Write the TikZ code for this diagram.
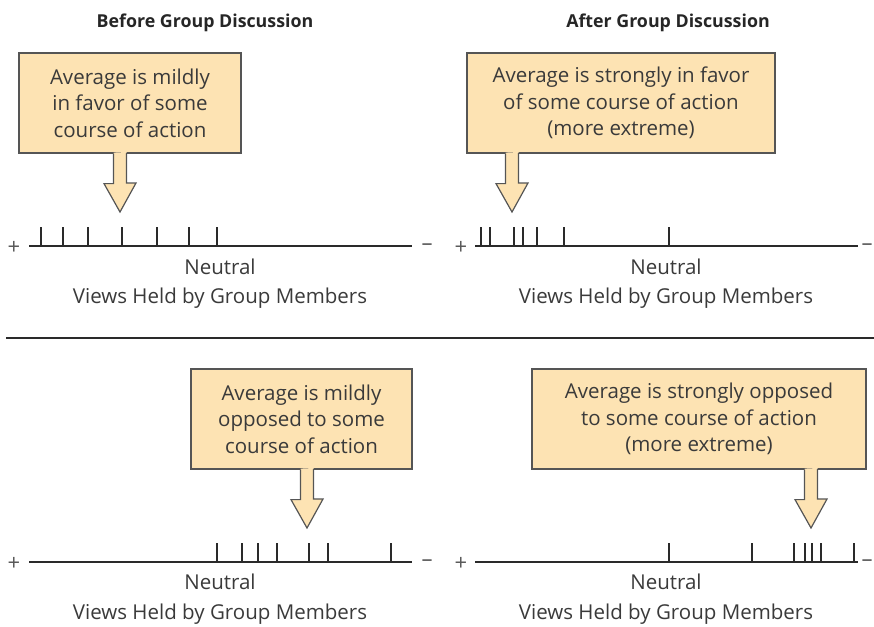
\documentclass[tikz,border=0pt]{standalone}
\usepackage{fontspec}
\setmainfont{Open Sans}
\usepackage{xcolor}
\usetikzlibrary{positioning}

\definecolor{calloutfill}{HTML}{FDE3B3}
\definecolor{calloutline}{HTML}{555555}
\definecolor{inktext}{HTML}{3A3A3A}
\definecolor{inkline}{HTML}{2A2A2A}

\tikzset{
  callout/.style={draw=calloutline, fill=calloutfill, line width=1.2pt, align=center,
    text=inktext, inner sep=0pt, font=\fontsize{20.5}{26.5}\selectfont},
  heading/.style={font=\bfseries\fontsize{17.8}{20}\selectfont, text=black!85},
  caption/.style={font=\fontsize{20.5}{22}\selectfont, text=inktext},
  sign/.style={font=\fontsize{22}{22}\selectfont, text=black!65, inner sep=0pt},
  axisline/.style={draw=inkline, line width=1.4pt},
  tickmark/.style={draw=inkline, line width=1.2pt},
}

% block arrow from the bottom of a callout down to a tip point
\newcommand{\fatarrow}[2]{%
  \fill[calloutfill] (#1.south -| #2) ++(-6.5,-1) -- ++(0,31) -- ++(-9.5,0) -- (#2)
    -- ++(16,-29) -- ++(-9.5,0) -- ++(0,-31) -- cycle;
  \draw[calloutline, line width=1.2pt, line join=miter] (#1.south -| #2) ++(-6.5,0) -- ++(0,30)
    -- ++(-9.5,0) -- (#2) -- ++(16,-29) -- ++(-9.5,0) -- ++(0,-30);
}

\begin{document}
\begin{tikzpicture}[x=1pt, y=-1pt]
  \useasboundingbox (0,0) rectangle (874,626);
  % \draw[help lines, gray!50, very thin] (0,0) grid[step=50] (874,626);

  \node[heading] (headBefore) at (205,23) {Before Group Discussion};
  \node[heading] (headAfter) at (668,23) {After Group Discussion};

  % top row
  \node[callout, minimum width=222, minimum height=100] (boxA) at (130,103)
    {Average is mildly\\in favor of some\\course of action};
  \node[callout, minimum width=308, minimum height=100] (boxB) at (621,103)
    {Average is strongly in favor\\of some course of action\\(more extreme)};
  \coordinate (tipA) at (120,212);
  \coordinate (tipB) at (512,212);
  \fatarrow{boxA}{tipA}
  \fatarrow{boxB}{tipB}

  \node[sign] (plusA) at (14,248) {+};
  \node[sign] (minusA) at (427,247) {–};
  \draw[axisline] (29,246) coordinate (axA1) -- (412,246) coordinate (axA2);
  \foreach \x in {41,63,88,122,157,189,217}
    \draw[tickmark] (\x,246) -- ++(0,-19);
  \node[caption] (neutralA) at (220,267) {Neutral};
  \node[caption] (viewsA) at (220,298) {Views Held by Group Members};

  \node[sign] (plusB) at (461,248) {+};
  \node[sign] (minusB) at (867,247) {–};
  \draw[axisline] (475,246) coordinate (axB1) -- (858,246) coordinate (axB2);
  \foreach \x in {481,490,514,523,537,564,669}
    \draw[tickmark] (\x,246) -- ++(0,-19);
  \node[caption] (neutralB) at (666,267) {Neutral};
  \node[caption] (viewsB) at (666,298) {Views Held by Group Members};

  \draw[axisline] (6,338) -- (874,338);

  % bottom row
  \node[callout, minimum width=221, minimum height=100] (boxC) at (301.5,419)
    {Average is mildly\\opposed to some\\course of action};
  \node[callout, minimum width=334, minimum height=100] (boxD) at (699,419)
    {Average is strongly opposed\\to some course of action\\(more extreme)};
  \coordinate (tipC) at (307,528);
  \coordinate (tipD) at (811,528);
  \fatarrow{boxC}{tipC}
  \fatarrow{boxD}{tipD}

  \node[sign] (plusC) at (14,564) {+};
  \node[sign] (minusC) at (427,563) {–};
  \draw[axisline] (29,562) coordinate (axC1) -- (412,562) coordinate (axC2);
  \foreach \x in {217,242,258,277,309,328,391}
    \draw[tickmark] (\x,562) -- ++(0,-19);
  \node[caption] (neutralC) at (220,582) {Neutral};
  \node[caption] (viewsC) at (220,614) {Views Held by Group Members};

  \node[sign] (plusD) at (461,564) {+};
  \node[sign] (minusD) at (867,563) {–};
  \draw[axisline] (475,562) coordinate (axD1) -- (858,562) coordinate (axD2);
  \foreach \x in {669,752,794,805,812,821,854}
    \draw[tickmark] (\x,562) -- ++(0,-19);
  \node[caption] (neutralD) at (666,582) {Neutral};
  \node[caption] (viewsD) at (666,614) {Views Held by Group Members};
\end{tikzpicture}
\end{document}
